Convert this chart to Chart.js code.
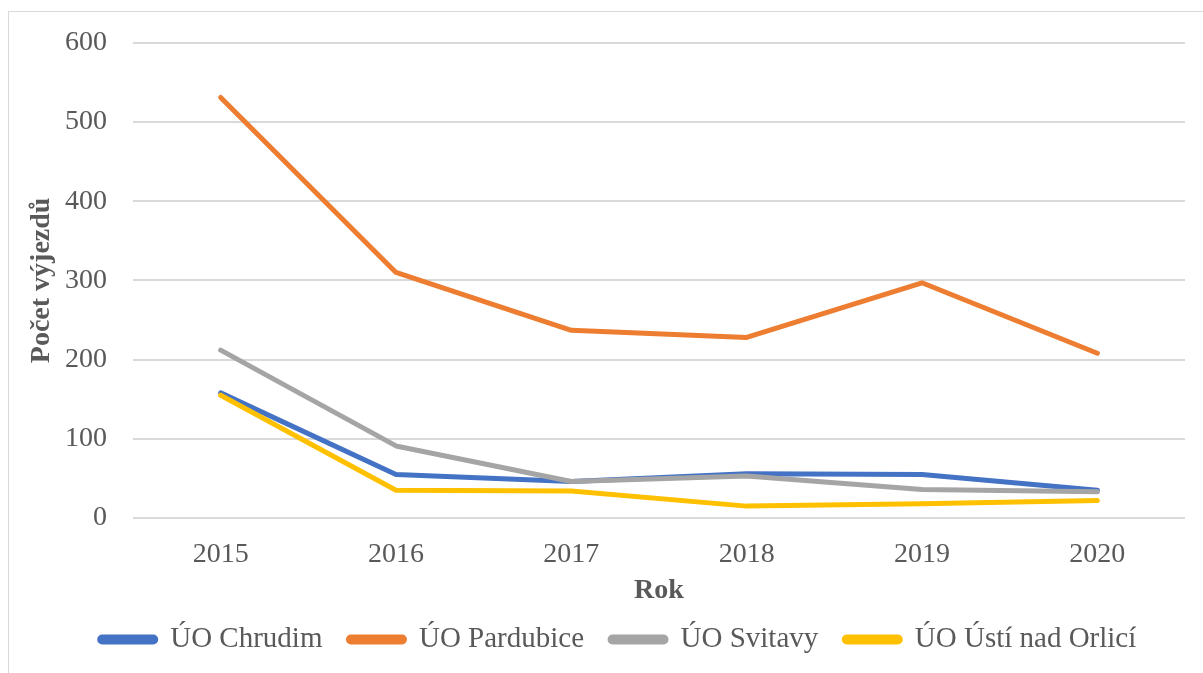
<!DOCTYPE html>
<html>
<head>
<meta charset="utf-8">
<script src="https://cdn.jsdelivr.net/npm/chart.js@4/dist/chart.umd.min.js"></script>
<style>
  html, body { margin: 0; padding: 0; background: #fff; }
  #wrap { position: relative; width: 1203px; height: 673px; }
</style>
</head>
<body>
<div id="wrap"><canvas id="c" width="1203" height="673"></canvas></div>
<script>
const categories = ['2015', '2016', '2017', '2018', '2019', '2020'];
const seriesNames = ['ÚO Chrudim', 'ÚO Pardubice', 'ÚO Svitavy', 'ÚO Ústí nad Orlicí'];
const chrudim   = [158, 55, 46, 56, 55, 35];
const pardubice = [531, 310, 237, 228, 297, 208];
const svitavy   = [212, 91, 46, 53, 36, 33];
const usti      = [155, 35, 34, 15, 18, 22];
const colors = ['#4472C4', '#ED7D31', '#A5A5A5', '#FFC000'];
const yTitle = 'Počet výjezdů';
const xTitle = 'Rok';

const txt = '#595959';
const font = 'Liberation Serif, Times New Roman, serif';

const borderPlugin = {
  id: 'outerBorder',
  beforeDraw(chart) {
    const ctx = chart.ctx;
    ctx.save();
    ctx.fillStyle = '#fff';
    ctx.fillRect(0, 0, chart.width, chart.height);
    ctx.strokeStyle = '#D9D9D9';
    ctx.lineWidth = 1;
    ctx.strokeRect(8.5, 11.5, 1210, 680);
    ctx.restore();
  }
};

const legendShift = {
  id: 'legendShift',
  afterLayout(chart) {
    const lg = chart.legend;
    if (!lg) return;
    lg.top -= 9; lg.bottom -= 9;
    lg.left += 13; lg.right += 13;
  }
};

const allSeries = [chrudim, pardubice, svitavy, usti];
const datasets = allSeries.map((d, i) => ({
  label: seriesNames[i],
  data: d,
  borderColor: colors[i],
  backgroundColor: colors[i],
  borderWidth: 5,
  pointRadius: 0,
  pointHoverRadius: 0,
  tension: 0,
  borderCapStyle: 'round',
  borderJoinStyle: 'round',
  order: 4 - i
}));

new Chart(document.getElementById('c'), {
  type: 'line',
  data: { labels: categories, datasets },
  options: {
    responsive: false,
    animation: false,
    layout: { padding: { left: 25, right: 18, top: 22, bottom: 0 } },
    plugins: {
      legend: {
        position: 'bottom',
        labels: {
          sort: (a, b) => a.datasetIndex - b.datasetIndex,
          boxWidth: 56,
          boxHeight: 5,
          useBorderRadius: true,
          borderRadius: 2.5,
          padding: 26,
          color: txt,
          font: { family: font, size: 29 }
        }
      },
      tooltip: { enabled: false }
    },
    scales: {
      x: {
        offset: true,
        grid: { display: false, drawTicks: false },
        border: { display: false },
        ticks: { color: txt, font: { family: font, size: 28 }, padding: 20, maxRotation: 0 },
        title: { display: true, text: xTitle, color: txt, font: { family: font, size: 28, weight: 'bold' }, padding: { top: 0, bottom: 0 } },
        afterFit(scale) { scale.height = 90; }
      },
      y: {
        min: 0, max: 600,
        grid: { color: '#D9D9D9', lineWidth: 2, drawTicks: false },
        border: { display: false },
        ticks: { stepSize: 100, color: txt, font: { family: font, size: 28 }, padding: 26 },
        title: { display: true, text: yTitle, color: txt, font: { family: font, size: 28, weight: 'bold' }, padding: { top: 0, bottom: 0 } },
        afterFit(scale) { scale.width = 108; }
      }
    }
  },
  plugins: [borderPlugin, legendShift]
});
</script>
</body>
</html>
